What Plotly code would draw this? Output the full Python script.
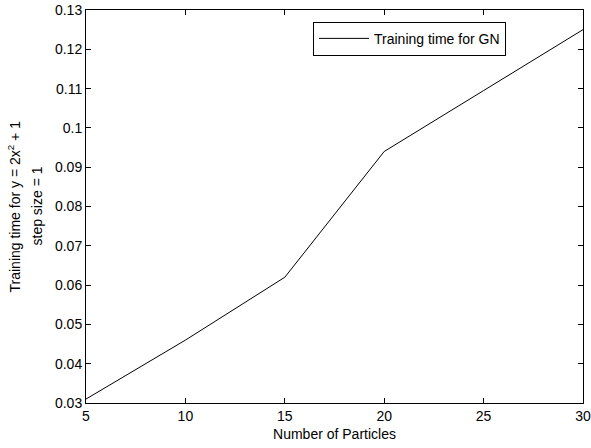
import plotly.graph_objects as go

particles = [5, 10, 15, 20, 25, 30]
train_time = [0.031, 0.046, 0.062, 0.094, 0.1095, 0.125]
x_ticks = [5, 10, 15, 20, 25, 30]
y_ticks = [0.03, 0.04, 0.05, 0.06, 0.07, 0.08, 0.09, 0.10, 0.11, 0.12, 0.13]
y_labels = ["0.03", "0.04", "0.05", "0.06", "0.07", "0.08", "0.09", "0.1", "0.11", "0.12", "0.13"]
y_title_lines = ["Training time for y = 2x<sup>2</sup> + 1", "step size = 1"]

L, R, T, B = 86, 8, 10, 45
W, H = 591, 448
pw = W - L - R

fig = go.Figure()
fig.add_trace(go.Scatter(x=particles, y=train_time, mode="lines",
                         line=dict(color="black", width=1),
                         name="Training time for GN"))

axis_common = dict(showline=True, linecolor="black", linewidth=1, mirror="ticks",
                   ticks="inside", ticklen=5, tickcolor="black", showgrid=False,
                   zeroline=False, automargin=False,
                   tickfont=dict(size=14, color="black"))

fig.update_layout(
    width=W, height=H,
    margin=dict(l=L, r=R, t=T, b=B),
    paper_bgcolor="white", plot_bgcolor="white",
    font=dict(family="Liberation Sans, Arial, sans-serif", size=14, color="black"),
    xaxis=dict(range=[5, 30], tickvals=x_ticks,
               title=dict(text="Number of Particles", standoff=6, font=dict(size=14)),
               **axis_common),
    yaxis=dict(range=[0.03, 0.13], tickvals=y_ticks, ticktext=y_labels, **axis_common),
    legend=dict(x=(313 - L) / pw, y=0.97, xanchor="left", yanchor="top",
                bordercolor="black", borderwidth=1, bgcolor="white",
                font=dict(size=14), itemwidth=50, tracegroupgap=0),
    showlegend=True,
)

for txt, px in zip(y_title_lines, [14, 36]):
    fig.add_annotation(text=txt, textangle=-90, xref="paper", yref="paper",
                       x=(px - L) / pw, y=0.5, xanchor="center", yanchor="middle",
                       showarrow=False, font=dict(size=14, color="black"))

fig.write_html("out.html")
